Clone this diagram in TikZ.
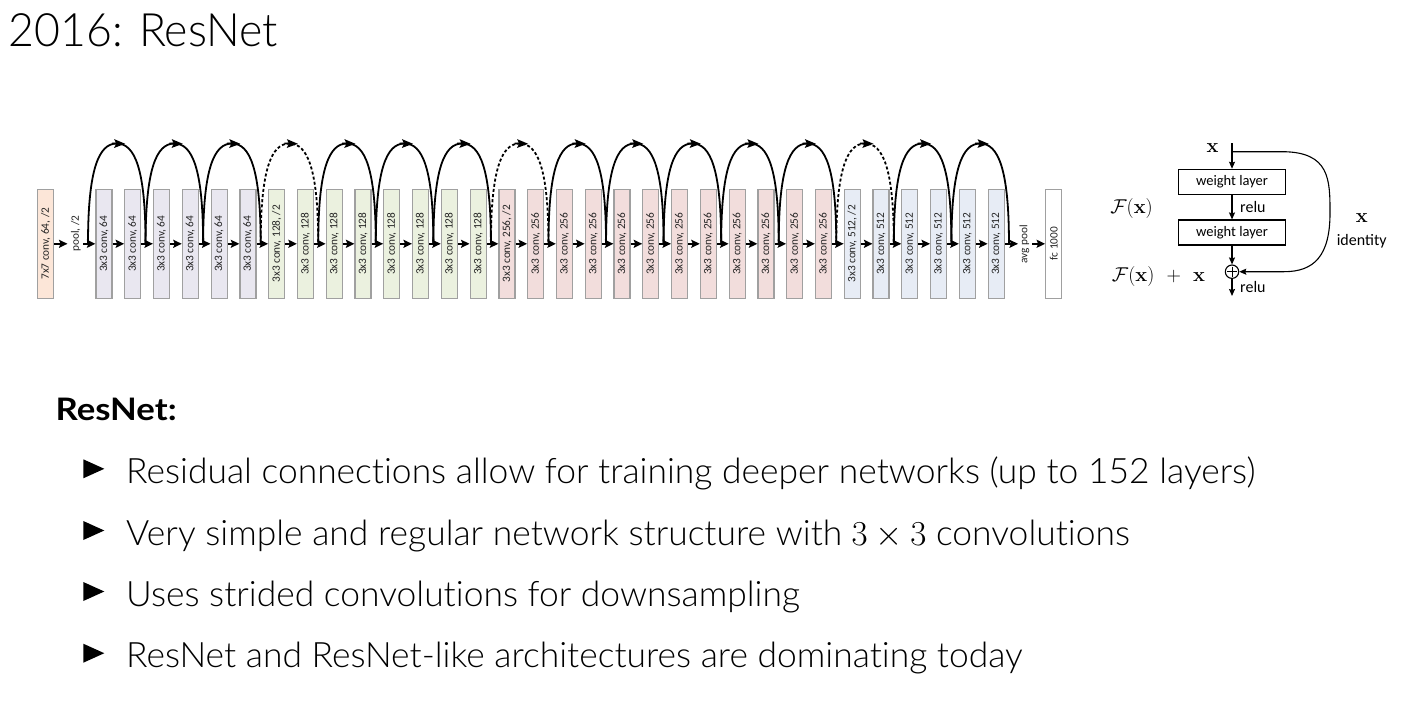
\RequirePackage{fix-cm}
\documentclass[tikz,border=0pt]{standalone}
\usepackage[no-math]{fontspec}
\setmainfont{Lato Light}[BoldFont={Lato Bold}]
\newfontfamily\carl{Carlito}
\newfontfamily\titlefont{Lato Light}[FakeStretch=0.97]
\newfontfamily\bulfont{Lato Light}[FakeStretch=1.012, Ligatures=CommonOff]
\newfontfamily\hdfont{Lato Bold}[FakeStretch=1.12]
\usetikzlibrary{arrows.meta,calc}
\definecolor{c7}{RGB}{252,230,216}
\definecolor{c64}{RGB}{233,231,240}
\definecolor{c128}{RGB}{235,241,223}
\definecolor{c256}{RGB}{242,221,220}
\definecolor{c512}{RGB}{231,236,245}
\definecolor{bordergray}{RGB}{160,160,160}
\definecolor{labelgray}{RGB}{35,35,35}
\begin{document}
\begin{tikzpicture}[x=1pt,y=-1pt,
  convbox/.style={draw=bordergray, line width=1.2pt, minimum width=16pt, minimum height=109pt, inner sep=0pt,
     font=\carl\fontsize{11.3}{11.3}\selectfont, text=labelgray},
  smalllbl/.style={inner sep=0pt, font=\carl\fontsize{11.3}{11.3}\selectfont, text=labelgray},
  arr/.style={line width=1.8pt, -{Stealth[length=8.5pt,width=8pt,inset=1.5pt]}},
  skiparc/.style={line width=1.8pt},
  skipdash/.style={line width=1.8pt, dash pattern=on 3pt off 2.2pt},
  tipst/.style={line width=1.8pt, -{Stealth[length=11pt,width=8.5pt,inset=2pt]}},
  wbox/.style={draw, line width=1.1pt, minimum width=107pt, minimum height=25pt, inner sep=0pt,
     font=\carl\fontsize{14.5}{14.5}\selectfont},
  arr2/.style={line width=1.1pt, -{Stealth[length=7pt,width=6pt,inset=1pt]}},
  blbl/.style={inner sep=0pt, font=\carl\fontsize{16}{16}\selectfont},
  mlbl/.style={inner sep=0pt, font=\fontsize{20}{20}\selectfont},
  bul/.style={anchor=base west, inner sep=0pt, font=\bulfont\fontsize{35}{35}\selectfont},
]
\fill[white] (0,0) rectangle (1412,701);
\useasboundingbox (0,0) rectangle (1412,701);

% title
\node[anchor=base west, inner sep=0pt, font=\titlefont\fontsize{46}{46}\selectfont] (title) at (8.5,46.7) {2016: ResNet};

% ---------- network ----------
\node[convbox, fill=c7] (c7) at (45.6,243.8) {\rotatebox{90}{7x7 conv, 64, /2}};
\foreach \i in {0,...,31}{
  \ifnum\i<6 \def\ch{64}\def\col{c64}\else\ifnum\i<14 \def\ch{128}\def\col{c128}\else\ifnum\i<26 \def\ch{256}\def\col{c256}\else\def\ch{512}\def\col{c512}\fi\fi\fi
  \def\sfx{}
  \ifnum\i=6 \def\sfx{, /2}\fi
  \ifnum\i=14 \def\sfx{, /2}\fi
  \ifnum\i=26 \def\sfx{, /2}\fi
  \node[convbox, fill=\col] (b\i) at ({104+28.78*\i},243.8) {\rotatebox{90}{3x3 conv, \ch\sfx}};
}
\node[convbox, fill=white] (fc) at (1053.7,243.8) {\rotatebox{90}{fc 1000}};

\node[smalllbl] (pool) at (75.8,233.5) {\rotatebox{90}{pool, /2}};
\node[smalllbl] (avg) at (1024.5,244) {\rotatebox{90}{avg pool}};

\foreach \i in {0,...,32}{
  \coordinate (j\i) at ({88+28.78*\i},243.8);
}
\coordinate (poolin) at (67.5,243.8);
\coordinate (poolout) at (83,243.8);
\coordinate (avgin) at (1018,243.8);
\coordinate (avgout) at (1032,243.8);

\draw[arr] (c7.east) -- (poolin);
\draw[arr] (poolout) -- (b0.west);
\foreach \i [evaluate=\i as \p using int(\i-1)] in {1,...,31}{
  \draw[arr] (b\p.east) -- (b\i.west);
}
\draw[arr] (b31.east) -- (avgin);
\draw[arr] (avgout) -- (fc.west);

\foreach \k in {0,...,15}{
  \pgfmathtruncatemacro{\a}{2*\k}
  \pgfmathtruncatemacro{\b}{2*\k+2}
  \def\st{skiparc}
  \ifnum\k=3 \def\st{skipdash}\fi
  \ifnum\k=7 \def\st{skipdash}\fi
  \ifnum\k=13 \def\st{skipdash}\fi
  \coordinate (t\k) at ($(j\a)!0.5!(j\b)+(0,-100.3)$);
  \draw[\st] (j\a) .. controls ($(j\a)+(0,-75)$) and ($(t\k)+(-18,0)$) .. (t\k)
     .. controls ($(t\k)+(18,0)$) and ($(j\b)+(0,-75)$) .. (j\b);
  \draw[tipst] ($(t\k)+(-5,0)$) -- ($(t\k)+(8.5,0.3)$);
}

% ---------- residual block ----------
\coordinate (xin) at (1232,143);
\coordinate (br) at (1232,151.7);
\node[wbox] (w1) at (1232,181.8) {weight layer};
\node[wbox] (w2) at (1232,232.5) {weight layer};
\node[circle, draw, line width=1.1pt, minimum size=13.4pt, inner sep=0pt,
  path picture={\draw[line width=1pt] ($(path picture bounding box.north)+(0,1.5)$) -- ($(path picture bounding box.south)+(0,-1.5)$);
                \draw[line width=1pt] ($(path picture bounding box.west)+(1.5,0)$) -- ($(path picture bounding box.east)+(-1.5,0)$);}]
  (plus) at (1232,271.7) {};
\coordinate (out) at (1232,296);

\draw[arr2] (xin) -- (w1.north);
\draw[arr2] (w1.south) -- (w2.north);
\draw[arr2] (w2.south) -- (plus.north);
\draw[arr2] (plus.south) -- (out);
\draw[arr2] (br) -- (1282,151.7) .. controls (1330,151.7) and (1330,180) .. (1330,213)
   .. controls (1330,256) and (1314,271.7) .. (1284,271.7) -- (plus.east);

\node[mlbl] (xlab) at (1212.5,148.3) {$\mathbf{x}$};
\node[blbl, anchor=west] (relu1) at (1240,206.7) {relu};
\node[blbl, anchor=west] (relu2) at (1240,286.7) {relu};
\node[mlbl] (fx) at (1131.5,208.3) {$\mathcal{F}(\mathbf{x})$};
\node[mlbl] (fxx) at (1158.5,276.7) {$\mathcal{F}(\mathbf{x})\mskip7mu+\mskip7mu\mathbf{x}$};
\node[mlbl] (xid) at (1361.7,218.3) {$\mathbf{x}$};
\node[blbl] (ident) at (1361.7,241) {identity};

% ---------- text ----------
\node[anchor=base west, inner sep=0pt, font=\hdfont\fontsize{31}{31}\selectfont] (hd) at (55.5,420) {ResNet:};
\foreach \yy in {483.3,545,606,667.7}{
  \fill (83.3,\yy-24) -- (104.3,\yy-14.5) -- (83.3,\yy-5) -- cycle;
}
\node[bul] (l1) at (126,483.3) {Residual connections allow for training deeper networks (up to 152 layers)};
\node[bul] (l2) at (126,545) {Very simple and regular network structure with $3\times 3$ convolutions};
\node[bul] (l3) at (126,606) {Uses strided convolutions for downsampling};
\node[bul] (l4) at (126,667.7) {ResNet and ResNet-like architectures are dominating today};
\end{tikzpicture}
\end{document}
